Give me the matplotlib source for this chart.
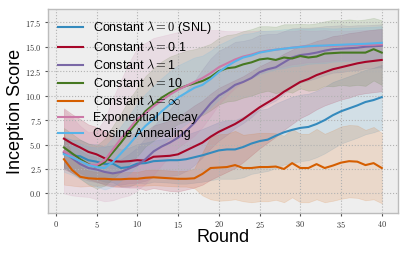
import matplotlib
matplotlib.use("Agg")
import matplotlib.pyplot as plt
import numpy as np
from matplotlib.ticker import FuncFormatter

plt.style.use("bmh")
plt.rcParams["font.family"] = ["Liberation Sans", "DejaVu Sans"]
plt.rcParams["mathtext.fontset"] = "cm"

rounds = list(range(1, 41))

labels = [r"Constant $\lambda=0$ (SNL)", r"Constant $\lambda=$0.1", r"Constant $\lambda=$1",
          r"Constant $\lambda=$10", r"Constant $\lambda=\infty$", "Exponential Decay", "Cosine Annealing"]
colors = ["#348ABD", "#A60628", "#7A68A6", "#467821", "#D55E00", "#CC79A7", "#56B4E9"]

snl = [4.15, 3.9, 3.8, 3.4, 3.25, 3.0, 3.05, 2.6, 2.7, 3.05, 3.1, 3.3, 3.35, 3.4, 3.4, 3.5, 3.7, 3.9, 4.15, 4.4,
       4.5, 4.5, 4.75, 5.1, 5.35, 5.5, 5.9, 6.25, 6.5, 6.7, 6.8, 7.1, 7.5, 8.0, 8.4, 8.7, 9.0, 9.35, 9.55, 9.85]
lam01 = [5.6, 5.1, 4.7, 4.25, 4.0, 3.6, 3.3, 3.25, 3.3, 3.4, 3.35, 3.75, 3.8, 3.85, 4.0, 4.4, 4.8, 5.2, 5.8, 6.3,
         6.7, 7.1, 7.6, 8.2, 8.8, 9.3, 9.8, 10.4, 10.9, 11.4, 11.7, 12.1, 12.4, 12.7, 12.9, 13.1, 13.3, 13.45, 13.55, 13.65]
lam1 = [4.2, 3.6, 3.0, 2.6, 2.45, 2.2, 2.05, 2.2, 2.55, 2.9, 3.5, 4.3, 4.8, 5.2, 5.7, 6.4, 7.2, 8.2, 9.2, 10.0,
        10.5, 11.1, 11.4, 11.8, 12.4, 12.7, 12.9, 13.4, 13.9, 14.15, 14.25, 14.4, 14.6, 14.75, 14.8, 14.85, 14.9, 15.0, 15.05, 15.1]
lam10 = [4.7, 4.1, 3.5, 3.0, 2.7, 3.2, 4.2, 5.2, 6.3, 7.3, 8.4, 9.1, 9.8, 10.3, 10.7, 11.0, 11.25, 11.5, 11.9, 12.5,
         12.8, 12.9, 13.2, 13.4, 13.7, 13.8, 13.65, 13.9, 13.8, 14.05, 13.9, 14.0, 14.3, 14.35, 14.4, 14.4, 14.4, 14.4, 14.75, 14.4]
laminf = [3.5, 2.4, 1.7, 1.55, 1.5, 1.5, 1.45, 1.45, 1.5, 1.5, 1.6, 1.65, 1.6, 1.55, 1.5, 1.5, 1.55, 2.0, 2.6, 2.65,
          2.7, 2.9, 2.6, 2.6, 2.7, 2.7, 2.75, 2.5, 3.1, 2.6, 2.6, 3.0, 2.6, 2.85, 3.15, 3.3, 3.25, 2.9, 3.1, 2.6]
expdec = [4.3, 3.8, 3.3, 2.95, 2.9, 3.4, 4.5, 5.6, 6.6, 7.6, 8.2, 8.9, 9.5, 10.1, 10.6, 11.0, 11.4, 11.8, 12.3, 12.9,
          13.3, 13.7, 14.0, 14.2, 14.45, 14.6, 14.7, 14.8, 14.9, 15.0, 15.05, 15.05, 15.1, 15.1, 15.15, 15.15, 15.2, 15.2, 15.2, 15.25]
cosine = [4.0, 3.7, 3.3, 2.9, 2.7, 2.6, 3.2, 4.1, 5.0, 6.0, 6.9, 7.6, 8.4, 9.1, 9.8, 10.3, 10.8, 11.1, 11.7, 12.4,
          13.0, 13.5, 13.9, 14.1, 14.4, 14.55, 14.7, 14.8, 14.9, 14.97, 15.05, 15.1, 15.12, 15.17, 15.2, 15.24, 15.27, 15.3, 15.35, 15.4]

snl_sd = [1.6, 1.6, 1.7, 1.7, 1.8, 1.8, 1.9, 1.9, 2.0, 2.0, 2.1, 2.1, 2.2, 2.3, 2.4, 2.5, 2.6, 2.7, 2.8, 2.9,
          3.0, 3.0, 3.1, 3.1, 3.2, 3.2, 3.3, 3.3, 3.4, 3.4, 3.4, 3.4, 3.4, 3.4, 3.3, 3.3, 3.3, 3.3, 3.3, 3.3]
lam01_sd = [3.1, 3.0, 2.9, 2.8, 2.8, 2.7, 2.6, 2.6, 2.7, 2.8, 3.0, 3.2, 3.4, 3.6, 3.8, 4.0, 4.2, 4.3, 4.4, 4.5,
            4.5, 4.5, 4.4, 4.3, 4.2, 4.1, 4.0, 3.9, 3.8, 3.7, 3.6, 3.5, 3.4, 3.4, 3.3, 3.3, 3.2, 3.2, 3.2, 3.2]
lam1_sd = [1.6, 1.5, 1.4, 1.3, 1.3, 1.2, 1.2, 1.3, 1.5, 1.8, 2.2, 2.6, 3.0, 3.4, 3.8, 4.1, 4.3, 4.5, 4.6, 4.6,
           4.5, 4.4, 4.2, 4.0, 3.8, 3.6, 3.4, 3.2, 3.0, 2.8, 2.7, 2.6, 2.5, 2.4, 2.4, 2.3, 2.3, 2.2, 2.2, 2.2]
lam10_sd = [2.0, 2.0, 2.0, 2.1, 2.2, 2.4, 2.7, 3.0, 3.3, 3.5, 3.6, 3.7, 3.7, 3.7, 3.6, 3.6, 3.5, 3.5, 3.4, 3.4,
            3.4, 3.4, 3.4, 3.4, 3.4, 3.3, 3.4, 3.4, 3.5, 3.3, 3.4, 3.4, 3.3, 3.4, 3.3, 3.4, 3.3, 3.4, 3.2, 3.3]
laminf_sd = [2.6, 1.6, 1.0, 0.8, 0.7, 0.7, 0.7, 0.7, 0.7, 0.7, 0.8, 0.8, 0.8, 0.8, 0.8, 0.8, 1.0, 2.2, 3.2, 3.4,
             3.4, 3.5, 3.4, 3.5, 3.5, 3.5, 3.4, 3.4, 3.5, 3.5, 3.5, 3.6, 3.5, 3.6, 3.7, 3.7, 3.7, 3.6, 3.7, 3.6]
expdec_sd = [4.3, 4.0, 3.6, 3.3, 3.5, 4.2, 5.2, 6.0, 6.8, 7.3, 7.2, 7.0, 6.6, 6.2, 5.9, 5.7, 5.5, 5.0, 4.4, 3.8,
             3.3, 2.9, 2.6, 2.4, 2.2, 2.0, 1.9, 1.8, 1.7, 1.7, 1.6, 1.6, 1.6, 1.5, 1.5, 1.5, 1.5, 1.5, 1.5, 1.5]
cosine_sd = [1.8, 1.8, 1.8, 1.9, 2.0, 2.2, 2.5, 2.8, 3.0, 3.2, 3.3, 3.4, 3.4, 3.4, 3.3, 3.2, 3.1, 3.0, 2.9, 2.8,
             2.6, 2.5, 2.4, 2.3, 2.2, 2.1, 2.0, 2.0, 1.9, 1.9, 1.8, 1.8, 1.8, 1.7, 1.7, 1.7, 1.7, 1.7, 1.7, 1.7]

means = [snl, lam01, lam1, lam10, laminf, expdec, cosine]
sds = [snl_sd, lam01_sd, lam1_sd, lam10_sd, laminf_sd, expdec_sd, cosine_sd]

fig = plt.figure(figsize=(4.07, 2.54), dpi=100)
ax = fig.add_axes([0.118, 0.1614, 0.859, 0.8032])
ax.set_facecolor("#eeeeee")

x = np.array(rounds)
for m, s, c in zip(means, sds, colors):
    m = np.array(m); s = np.array(s)
    ax.fill_between(x, m - s, m + s, color=c, alpha=0.15, linewidth=0.5)
for m, c, lab in zip(means, colors, labels):
    ax.plot(x, m, color=c, linewidth=1.5, label=lab)

ax.set_xlim(-0.95, 41.95)
ax.set_ylim(-2.0, 18.86)
ax.set_xticks([0, 5, 10, 15, 20, 25, 30, 35, 40])
ax.set_yticks([0.0, 2.5, 5.0, 7.5, 10.0, 12.5, 15.0, 17.5])
ax.xaxis.set_major_formatter(FuncFormatter(lambda v, p: r"$%d$" % v))
ax.yaxis.set_major_formatter(FuncFormatter(lambda v, p: r"$%.1f$" % v))
ax.tick_params(axis="both", which="major", labelsize=6, direction="out", length=2.5,
               color="#555555", labelcolor="#333333", top=False, right=False, pad=2)
ax.grid(True, color="#b2b2b2", linestyle=":", linewidth=0.8)
for sp in ax.spines.values():
    sp.set_color("#bcbcbc")
    sp.set_linewidth(1.0)

ax.set_xlabel("Round", fontsize=13, labelpad=-1)
ax.set_ylabel("Inception Score", fontsize=13, labelpad=1)

leg = ax.legend(loc="upper left", fontsize=9, frameon=False, labelspacing=0.32,
                handlelength=2.0, handletextpad=0.8, borderaxespad=0.4)

fig.savefig("out.png", dpi=100)
